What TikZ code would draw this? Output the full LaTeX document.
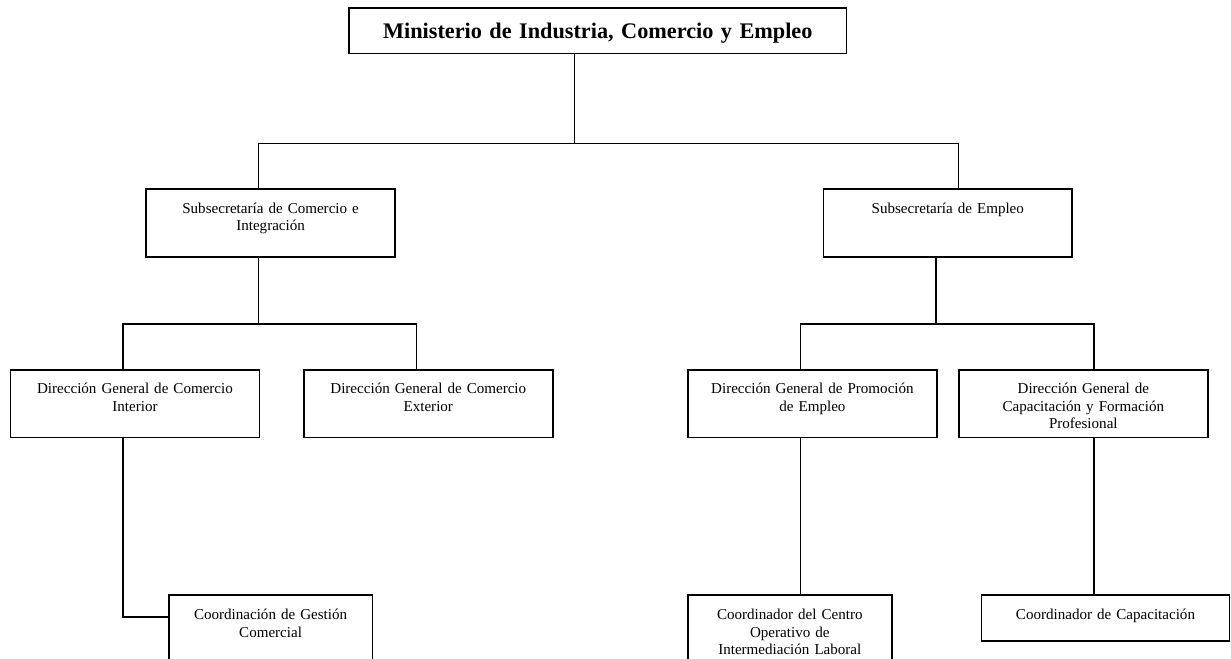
\documentclass[tikz,border=0pt]{standalone}
\usepackage{fontspec}
\setmainfont{Liberation Serif}
\begin{document}
\begin{tikzpicture}[x=0.75pt,y=-0.75pt,
  box/.style={draw, line width=1.2pt, inner sep=0pt, anchor=north west, align=center,
    font=\fontsize{11.3pt}{13.1pt}\selectfont},
  tall/.style={text height=18pt, text depth=32.8pt},
  coordbox/.style={text height=18.75pt, text depth=45pt},
  conn/.style={line width=1pt}]
\useasboundingbox (0,0) rectangle (1231,659);
\fill[white] (0,0) rectangle (1231,659);
\clip (0,0) rectangle (1231,659);

\node[box, text width=373pt, text height=22.5pt, text depth=11.5pt,
  font=\fontsize{16.7pt}{20pt}\selectfont\bfseries] (min) at (348.3,7.3)
  {Ministerio de Industria, Comercio y Empleo};

\node[box, tall, text width=186.75pt] (subL) at (145.3,188.3)
  {Subsecretaría de Comercio e\\Integración};
\node[box, tall, text width=186.45pt] (subR) at (822.7,188.3)
  {Subsecretaría de Empleo};

\node[box, tall, text width=186.75pt] (dgI) at (9.7,369)
  {Dirección General de Comercio\\Interior};
\node[box, tall, text width=186.75pt] (dgE) at (303,369)
  {Dirección General de Comercio\\Exterior};
\node[box, tall, text width=186.5pt] (dgP) at (687.3,369)
  {Dirección General de Promoción\\de Empleo};
\node[box, tall, text width=186.75pt] (dgC) at (958,369)
  {Dirección General de\\Capacitación y Formación\\Profesional};

\node[box, coordbox, text width=152.7pt] (cg) at (168,594)
  {Coordinación de Gestión\\Comercial};
\node[box, coordbox, text width=153pt] (cc) at (687,594)
  {Coordinador del Centro\\Operativo de\\Intermediación Laboral};
\node[box, text height=18.75pt, text depth=15.75pt, text width=186pt] (ccap) at (980.7,594)
  {Coordinador de Capacitación};

\coordinate (h1) at (574.5,143.5);
\coordinate (h1l) at (258.5,143.5);
\coordinate (h1r) at (958.5,143.5);
\draw[conn] (min.south -| h1) -- (h1);
\draw[conn] (subL.north -| h1l) -- (h1l) -- (h1r) -- (subR.north -| h1r);

\coordinate (h2) at (258.5,324);
\coordinate (h2l) at (123,324);
\coordinate (h2r) at (416.5,324);
\draw[conn] (subL.south -| h2) -- (h2);
\draw[conn] (dgI.north -| h2l) -- (h2l) -- (h2r) -- (dgE.north -| h2r);

\coordinate (h3) at (936,324);
\coordinate (h3l) at (800.5,324);
\coordinate (h3r) at (1094,324);
\draw[conn] (subR.south -| h3) -- (h3);
\draw[conn] (dgP.north -| h3l) -- (h3l) -- (h3r) -- (dgC.north -| h3r);

\coordinate (e1) at (123,617);
\draw[conn] (dgI.south -| e1) -- (e1) -- (cg.west |- e1);
\draw[conn] (dgP.south -| h3l) -- (cc.north -| h3l);
\draw[conn] (dgC.south -| h3r) -- (ccap.north -| h3r);
\end{tikzpicture}
\end{document}
